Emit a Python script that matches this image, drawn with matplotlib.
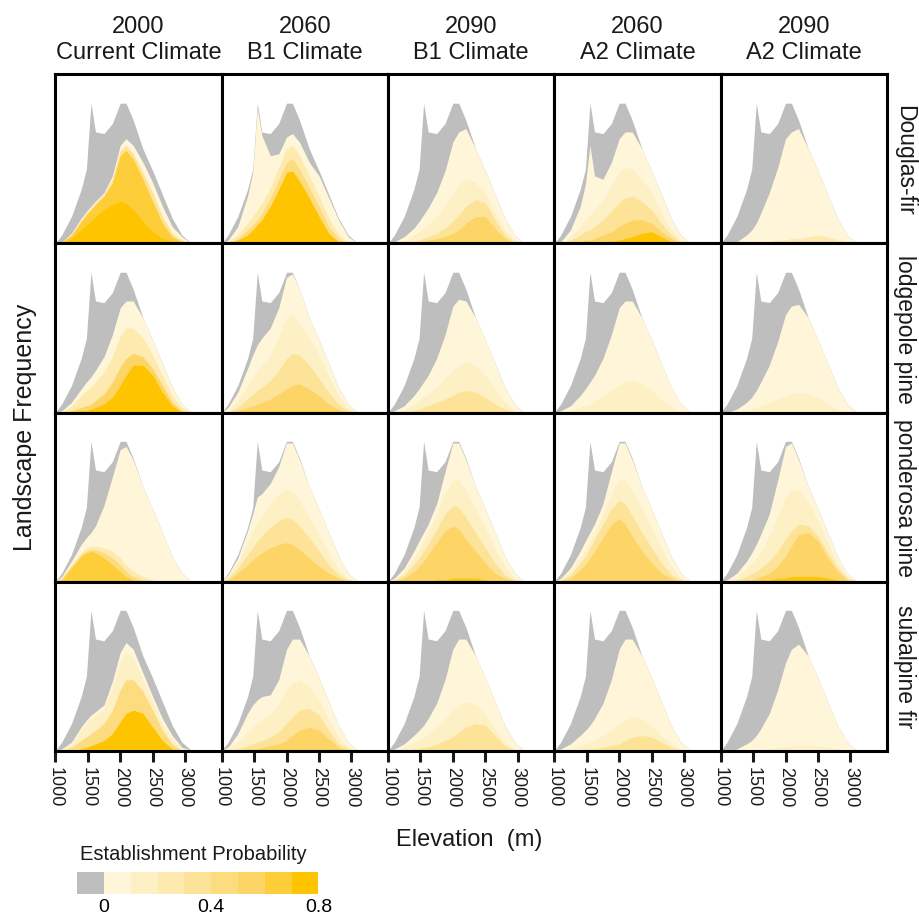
import matplotlib
matplotlib.use("Agg")
import matplotlib.pyplot as plt
import matplotlib as mpl
from matplotlib.colors import ListedColormap, BoundaryNorm

plt.rcParams["font.family"] = ["Liberation Sans", "DejaVu Sans"]

# Elevation grid (m) shared by all curves
elev = [1000, 1100, 1250, 1400, 1480, 1550, 1620, 1750, 1880, 2000,
        2090, 2200, 2350, 2500, 2650, 2800, 2950, 3100]

# Landscape frequency (same in every panel)
landscape = [0, .05, .16, .32, .44, .83, .66, .65, .71, .83,
             .83, .73, .56, .43, .29, .15, .05, 0]

species = ["Douglas-fir", "lodgepole pine", "ponderosa pine", "subalpine fir"]
periods = ["2000\nCurrent Climate", "2060\nB1 Climate", "2090\nB1 Climate",
           "2060\nA2 Climate", "2090\nA2 Climate"]

# probability classes: 0 -> [0,0.1), 1 -> [0.1,0.2) ... 7 -> [0.7,0.8]
prob_colors = ["#FFF6DA", "#FEF0C5", "#FEE9AE", "#FDE397",
               "#FDDC80", "#FDD566", "#FECD3A", "#FFC400"]
zero_color = "#BEBEBE"
class_bounds = [-0.1, 0, 0.1, 0.2, 0.3, 0.4, 0.5, 0.6, 0.7, 0.8]

# cumulative frequency of cells with probability >= class, per panel
df_2000 = {0: [0, .01, .06, .15, .19, .22, .25, .30, .40, .58, .62, .58, .48, .36, .22, .10, .04, 0],
           3: [0, .01, .05, .14, .18, .21, .24, .29, .38, .55, .58, .53, .42, .30, .16, .06, .02, 0],
           6: [0, .01, .05, .13, .17, .20, .23, .28, .36, .52, .55, .50, .38, .25, .12, .04, .01, 0],
           7: [0, 0, .03, .08, .11, .13, .16, .20, .23, .25, .24, .20, .13, .07, .03, .01, 0, 0]}
df_2060b1 = {0: [0, .02, .10, .28, .42, .80, .64, .52, .53, .63, .65, .60, .48, .40, .27, .14, .04, 0],
             2: [0, .01, .05, .12, .16, .20, .24, .33, .45, .56, .58, .52, .40, .28, .15, .05, .01, 0],
             4: [0, 0, .03, .08, .11, .14, .18, .27, .38, .48, .50, .44, .33, .22, .10, .03, 0, 0],
             7: [0, 0, .02, .05, .08, .11, .14, .22, .32, .42, .43, .37, .27, .16, .06, .01, 0, 0]}
df_2090b1 = {0: [0, .01, .04, .09, .13, .17, .21, .30, .43, .60, .66, .68, .56, .43, .29, .15, .05, 0],
             1: [0, 0, .02, .05, .07, .09, .11, .16, .22, .30, .35, .38, .36, .30, .18, .08, .02, 0],
             3: [0, 0, 0, .01, .02, .03, .04, .06, .09, .13, .17, .22, .26, .24, .14, .05, .01, 0],
             5: [0, 0, 0, 0, .01, .01, .02, .03, .04, .06, .08, .12, .16, .16, .09, .03, 0, 0]}
df_2060a2 = {0: [0, .01, .08, .22, .35, .58, .40, .38, .48, .62, .66, .66, .56, .43, .29, .15, .05, 0],
             1: [0, 0, .04, .10, .14, .17, .20, .26, .34, .42, .45, .44, .38, .30, .18, .08, .02, 0],
             3: [0, 0, .02, .05, .07, .08, .10, .14, .19, .24, .27, .28, .25, .20, .12, .05, .01, 0],
             5: [0, 0, 0, .01, .02, .02, .03, .05, .07, .10, .12, .14, .14, .12, .07, .03, 0, 0],
             7: [0, 0, 0, 0, 0, 0, 0, .01, .01, .02, .03, .04, .06, .07, .04, .01, 0, 0]}
df_2090a2 = {0: [0, 0, .01, .05, .08, .12, .18, .30, .45, .62, .66, .68, .56, .43, .29, .15, .05, 0],
             2: [0, 0, 0, 0, 0, 0, .01, .01, .02, .02, .03, .03, .04, .05, .04, .02, .01, 0]}

lp_2000 = {0: [0, .01, .06, .14, .18, .21, .25, .33, .46, .62, .66, .66, .56, .43, .29, .15, .05, 0],
           2: [0, 0, .04, .10, .13, .15, .18, .24, .33, .45, .50, .50, .44, .34, .22, .10, .03, 0],
           5: [0, 0, .01, .03, .04, .05, .07, .11, .18, .27, .32, .35, .33, .26, .16, .06, .01, 0],
           7: [0, 0, 0, .01, .01, .02, .03, .05, .09, .16, .22, .28, .28, .22, .12, .04, 0, 0]}
lp_2060b1 = {0: [0, .03, .12, .26, .34, .40, .44, .50, .62, .80, .82, .73, .56, .43, .29, .15, .05, 0],
             1: [0, .01, .07, .16, .21, .25, .28, .34, .45, .56, .58, .53, .44, .34, .22, .10, .03, 0],
             3: [0, 0, .03, .08, .11, .13, .15, .19, .25, .32, .35, .34, .28, .20, .12, .05, .01, 0],
             5: [0, 0, .01, .03, .04, .05, .06, .08, .11, .14, .16, .17, .14, .10, .05, .02, 0, 0]}
lp_2090b1 = {0: [0, .01, .04, .10, .14, .18, .22, .32, .46, .63, .67, .66, .56, .43, .29, .15, .05, 0],
             1: [0, 0, .02, .05, .07, .09, .11, .15, .20, .25, .28, .30, .28, .22, .14, .06, .01, 0],
             3: [0, 0, 0, .01, .02, .03, .04, .06, .08, .10, .12, .13, .12, .09, .05, .02, 0, 0]}
lp_2060a2 = {0: [0, .01, .04, .10, .14, .18, .22, .32, .46, .62, .66, .66, .56, .43, .29, .15, .05, 0],
             1: [0, 0, .01, .03, .04, .05, .07, .10, .13, .16, .18, .19, .17, .13, .08, .03, 0, 0]}
lp_2090a2 = {0: [0, 0, .02, .06, .09, .13, .18, .28, .42, .58, .63, .64, .56, .43, .29, .15, .05, 0],
             1: [0, 0, 0, .01, .02, .03, .04, .06, .08, .10, .11, .12, .11, .09, .05, .02, 0, 0]}

pp_2000 = {0: [0, .03, .12, .22, .26, .29, .33, .45, .62, .78, .80, .72, .56, .43, .29, .15, .05, 0],
           2: [0, .02, .10, .17, .20, .21, .21, .20, .18, .14, .10, .06, .03, .01, 0, 0, 0, 0],
           4: [0, .02, .09, .16, .18, .19, .19, .17, .14, .10, .06, .03, .01, 0, 0, 0, 0, 0],
           6: [0, .01, .08, .15, .17, .18, .17, .14, .10, .06, .03, .01, 0, 0, 0, 0, 0, 0]}
pp_2060b1 = {0: [0, .04, .14, .30, .40, .50, .52, .58, .68, .82, .82, .72, .56, .43, .29, .15, .05, 0],
             1: [0, .03, .11, .23, .30, .35, .39, .46, .52, .55, .54, .48, .38, .28, .17, .07, .02, 0],
             3: [0, .02, .08, .16, .20, .24, .27, .32, .36, .38, .37, .33, .26, .18, .10, .04, .01, 0],
             5: [0, .01, .05, .10, .13, .15, .17, .20, .22, .23, .22, .19, .14, .09, .05, .02, 0, 0]}
pp_2090b1 = {0: [0, .02, .08, .18, .24, .29, .34, .46, .65, .82, .82, .72, .56, .43, .29, .15, .05, 0],
             1: [0, .01, .06, .14, .19, .24, .29, .40, .52, .60, .60, .54, .43, .32, .20, .09, .02, 0],
             3: [0, .01, .04, .10, .14, .18, .22, .31, .40, .45, .44, .38, .29, .20, .11, .04, .01, 0],
             5: [0, 0, .02, .06, .09, .12, .16, .23, .30, .33, .31, .25, .18, .11, .05, .02, 0, 0],
             7: [0, 0, 0, 0, 0, 0, 0, .01, .01, .02, .02, .02, .02, .01, 0, 0, 0, 0]}
pp_2060a2 = {0: [0, .02, .08, .18, .24, .29, .34, .46, .65, .82, .82, .72, .56, .43, .29, .15, .05, 0],
             1: [0, .01, .06, .14, .19, .24, .29, .40, .52, .60, .60, .54, .43, .32, .20, .09, .02, 0],
             3: [0, .01, .04, .11, .15, .20, .25, .34, .43, .48, .46, .39, .29, .20, .11, .04, .01, 0],
             5: [0, 0, .02, .07, .10, .14, .18, .26, .34, .37, .34, .27, .18, .11, .05, .02, 0, 0]}
pp_2090a2 = {0: [0, .01, .05, .12, .17, .22, .28, .40, .60, .80, .82, .72, .56, .43, .29, .15, .05, 0],
             1: [0, 0, .03, .08, .11, .14, .18, .27, .39, .50, .55, .54, .47, .36, .23, .11, .03, 0],
             3: [0, 0, .01, .03, .05, .06, .08, .12, .18, .25, .30, .34, .33, .27, .17, .08, .02, 0],
             5: [0, 0, 0, .01, .01, .02, .03, .05, .09, .15, .21, .28, .29, .24, .14, .06, .01, 0],
             7: [0, 0, 0, 0, 0, 0, .01, .01, .02, .02, .03, .03, .03, .03, .02, .01, 0, 0]}

sf_2000 = {0: [0, .01, .05, .14, .18, .21, .23, .27, .41, .58, .64, .60, .46, .32, .19, .09, .02, 0],
           1: [0, .01, .04, .12, .16, .19, .21, .25, .37, .53, .58, .55, .42, .29, .16, .07, .01, 0],
           4: [0, 0, .02, .06, .08, .10, .12, .16, .24, .36, .42, .42, .35, .24, .12, .04, 0, 0],
           7: [0, 0, 0, .01, .02, .03, .04, .06, .10, .17, .22, .24, .22, .14, .06, .01, 0, 0]}
sf_2060b1 = {0: [0, .02, .10, .22, .27, .30, .32, .33, .42, .60, .66, .66, .56, .43, .29, .15, .05, 0],
             1: [0, .01, .05, .11, .14, .16, .18, .22, .28, .36, .40, .42, .38, .30, .18, .08, .02, 0],
             3: [0, 0, .01, .03, .04, .05, .06, .08, .11, .16, .20, .24, .25, .21, .12, .04, .01, 0],
             5: [0, 0, 0, .01, .01, .01, .02, .03, .04, .06, .09, .12, .14, .12, .07, .02, 0, 0]}
sf_2090b1 = {0: [0, .01, .04, .09, .12, .15, .19, .28, .42, .60, .66, .66, .56, .43, .29, .15, .05, 0],
             1: [0, 0, .02, .05, .06, .08, .10, .14, .19, .24, .27, .29, .27, .22, .13, .05, .01, 0],
             3: [0, 0, 0, .01, .01, .02, .02, .04, .06, .08, .11, .14, .16, .15, .09, .03, 0, 0]}
sf_2060a2 = {0: [0, .01, .04, .09, .12, .15, .19, .28, .42, .60, .66, .66, .56, .43, .29, .15, .05, 0],
             1: [0, 0, .01, .03, .04, .05, .06, .09, .12, .16, .18, .20, .19, .15, .09, .04, .01, 0],
             3: [0, 0, 0, 0, .01, .01, .01, .02, .03, .04, .06, .08, .09, .08, .05, .02, 0, 0]}
sf_2090a2 = {0: [0, 0, .01, .04, .06, .09, .13, .22, .36, .52, .60, .63, .56, .43, .29, .15, .05, 0],
             1: [0, 0, 0, 0, 0, .01, .01, .01, .02, .02, .03, .03, .03, .03, .02, .01, 0, 0]}

panels = [[df_2000, df_2060b1, df_2090b1, df_2060a2, df_2090a2],
          [lp_2000, lp_2060b1, lp_2090b1, lp_2060a2, lp_2090a2],
          [pp_2000, pp_2060b1, pp_2090b1, pp_2060a2, pp_2090a2],
          [sf_2000, sf_2060b1, sf_2090b1, sf_2060a2, sf_2090a2]]

text_color = "#1a1a1a"

fig = plt.figure(figsize=(9.2, 9.2), dpi=100)
gs = fig.add_gridspec(4, 5, left=0.06, right=0.964, top=0.918, bottom=0.183,
                      wspace=0, hspace=0)

for r in range(4):
    for c in range(5):
        ax = fig.add_subplot(gs[r, c])
        ax.fill_between(elev, 0, landscape, color=zero_color, lw=0)
        for k, vals in sorted(panels[r][c].items()):
            ax.fill_between(elev, 0, vals, color=prob_colors[k], lw=0)
        ax.set_xlim(1000, 3560)
        ax.set_ylim(0, 1)
        ax.set_yticks([])
        for s in ax.spines.values():
            s.set_linewidth(2.2)
            s.set_color("black")
        if r == 3:
            ax.set_xticks([1000, 1500, 2000, 2500, 3000])
            ax.tick_params(axis="x", length=8, width=2.2, labelsize=13,
                           labelrotation=270, pad=3, colors=text_color)
        else:
            ax.set_xticks([])
        if r == 0:
            ax.set_title(periods[c], fontsize=17, pad=12, color=text_color,
                         linespacing=1.2)
        if c == 4:
            ax.yaxis.set_label_position("right")
            ax.set_ylabel(species[r], rotation=270, fontsize=16.5, labelpad=21,
                          color=text_color)

fig.text(0.027, 0.535, "Landscape Frequency", rotation=90, fontsize=18,
         ha="center", va="center", color=text_color)
fig.text(0.51, 0.087, "Elevation  (m)", fontsize=17, ha="center", va="center",
         color=text_color)

# legend colour bar
fig.text(0.087, 0.071, "Establishment Probability", fontsize=14.5,
         ha="left", va="center", color=text_color)
cax = fig.add_axes([0.084, 0.027, 0.262, 0.024])
cmap = ListedColormap([zero_color] + prob_colors)
norm = BoundaryNorm(class_bounds, cmap.N)
cb = mpl.colorbar.ColorbarBase(cax, cmap=cmap, norm=norm,
                               orientation="horizontal", ticks=[0, 0.4, 0.8])
cb.outline.set_visible(False)
cb.ax.minorticks_off()
cb.ax.set_xticklabels(["0", "0.4", "0.8"])
cb.ax.tick_params(length=0, labelsize=14, pad=3)

fig.savefig("out.png", dpi=100)
